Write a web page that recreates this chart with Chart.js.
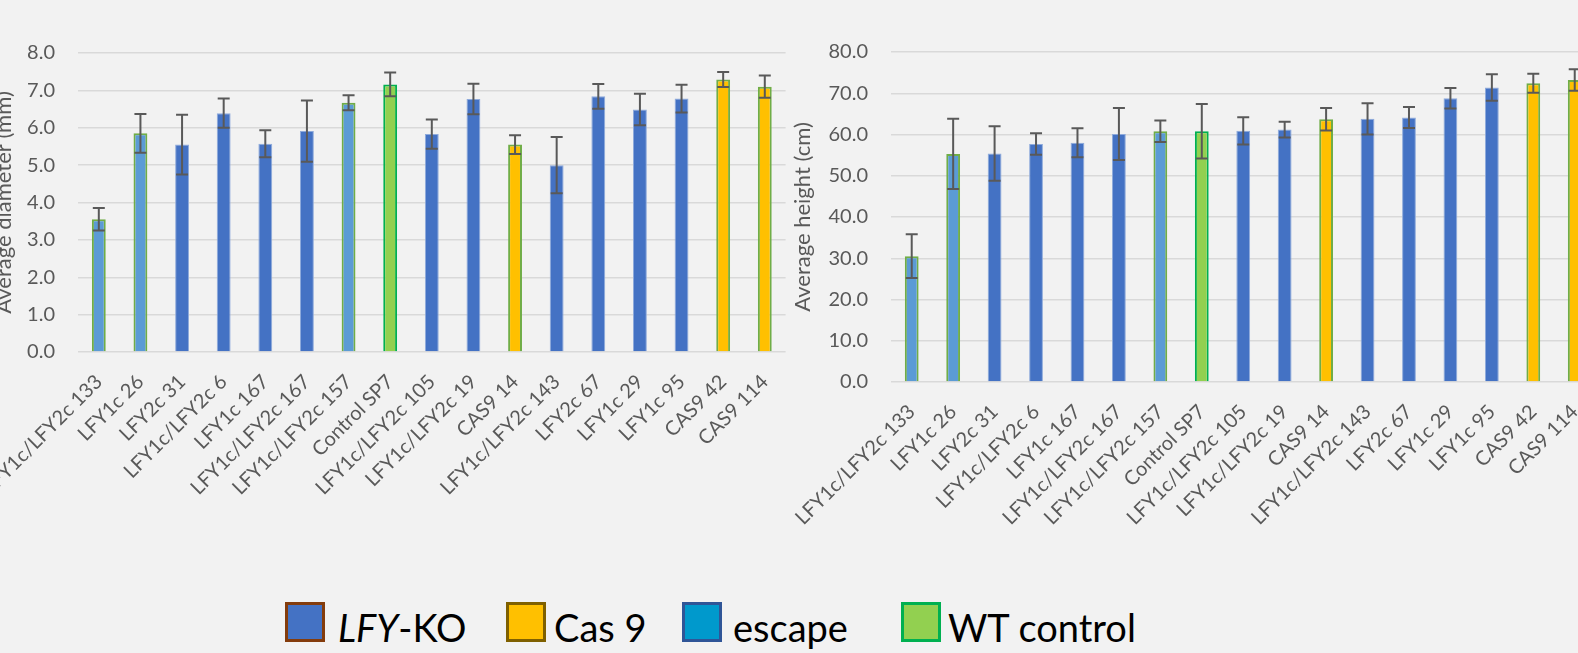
<!DOCTYPE html>
<html><head><meta charset="utf-8">
<script src="https://cdn.jsdelivr.net/npm/chart.js@4.4.0/dist/chart.umd.min.js"></script>
<style>
html,body{margin:0;padding:0;width:1578px;height:653px;overflow:hidden;background:#f2f2f2;}
.wrap{position:absolute;}
.box{position:absolute;width:40px;height:40px;box-sizing:border-box;border:3px solid;}
.txt{position:absolute;font-family:Lato,sans-serif;font-size:38px;line-height:38px;color:#000;white-space:nowrap;}
</style></head><body>
<div class="wrap" id="wl" style="left:-70px;top:0;width:870px;height:560px"><canvas id="cl"></canvas></div>
<div class="wrap" id="wr" style="left:770px;top:0;width:840px;height:560px"><canvas id="cr"></canvas></div>
<div id="legend">
  <div class="box" style="left:285px;top:602px;background:#4472c4;border-color:#843c0c"></div>
  <div class="txt" style="left:338px;top:608px"><i>LFY</i>-KO</div>
  <div class="box" style="left:506px;top:602px;background:#ffc000;border-color:#7f6000"></div>
  <div class="txt" style="left:554px;top:608px">Cas 9</div>
  <div class="box" style="left:682px;top:602px;background:#0099cc;border-color:#2f5597"></div>
  <div class="txt" style="left:733px;top:608px">escape</div>
  <div class="box" style="left:901px;top:602px;background:#92d050;border-color:#00b050"></div>
  <div class="txt" style="left:948px;top:608px">WT control</div>
</div>
<script>
const categories = ['LFY1c/LFY2c 133','LFY1c 26','LFY2c 31','LFY1c/LFY2c 6','LFY1c 167','LFY1c/LFY2c 167','LFY1c/LFY2c 157','Control SP7','LFY1c/LFY2c 105','LFY1c/LFY2c 19','CAS9 14','LFY1c/LFY2c 143','LFY2c 67','LFY1c 29','LFY1c 95','CAS9 42','CAS9 114'];
const groups = ['escape','escape','ko','ko','ko','ko','escape','wt','ko','ko','cas9','ko','ko','ko','ko','cas9','cas9'];
const diameterMean = [3.55,5.85,5.55,6.39,5.57,5.91,6.67,7.16,5.83,6.77,5.55,5.00,6.84,6.49,6.78,7.29,7.10];
const diameterErr  = [0.30,0.52,0.80,0.39,0.36,0.82,0.20,0.32,0.39,0.41,0.25,0.75,0.33,0.42,0.37,0.20,0.30];
const heightMean = [30.5,55.3,55.4,57.7,58.0,60.1,60.8,60.8,60.9,61.2,63.7,63.8,64.1,68.8,71.4,72.4,73.2];
const heightErr  = [5.3,8.5,6.6,2.6,3.5,6.3,2.6,6.6,3.3,1.9,2.75,3.8,2.55,2.5,3.2,2.3,2.6];
const diameterTicks = [0,1,2,3,4,5,6,7,8];
const heightTicks = [0,10,20,30,40,50,60,70,80];

const STYLE = {
  ko:     {bg:'#4472c4', border:'#8eaadb', bw:1},
  escape: {bg:'#5b9bd5', border:'#70ad47', bw:2},
  wt:     {bg:'#92d050', border:'#00b050', bw:2},
  cas9:   {bg:'#ffc000', border:'#70ad47', bw:2}
};

const errorBars = {
  id:'errorBars',
  afterDatasetsDraw(chart, args, opts){
    const ctx = chart.ctx, meta = chart.getDatasetMeta(0), ys = chart.scales.y;
    const vals = chart.data.datasets[0].data, errs = opts.errors;
    ctx.save();
    ctx.strokeStyle = '#595959'; ctx.lineWidth = 2;
    meta.data.forEach((bar,i)=>{
      const x = bar.x, y1 = ys.getPixelForValue(vals[i]+errs[i]), y2 = ys.getPixelForValue(vals[i]-errs[i]);
      ctx.beginPath();
      ctx.moveTo(x,y1); ctx.lineTo(x,y2);
      ctx.moveTo(x-6,y1); ctx.lineTo(x+6,y1);
      ctx.moveTo(x-6,y2); ctx.lineTo(x+6,y2);
      ctx.stroke();
    });
    ctx.restore();
  }
};

function makeChart(id, values, errs, ticks, title, titlePad, yWidth, xHeight, desiredTop, padRight){
  const ch = new Chart(document.getElementById(id), {
    type:'bar',
    data:{labels:categories, datasets:[{
      data:values,
      backgroundColor:groups.map(g=>STYLE[g].bg),
      borderColor:groups.map(g=>STYLE[g].border),
      borderWidth:groups.map(g=>STYLE[g].bw),
      barPercentage:0.333, categoryPercentage:1
    }]},
    options:{
      responsive:true, maintainAspectRatio:false, animation:false,
      layout:{padding:{top:40,right:padRight,left:0,bottom:0}},
      plugins:{legend:{display:false}, tooltip:{enabled:false}, errorBars:{errors:errs}},
      scales:{
        x:{
          grid:{display:false, drawTicks:false}, border:{display:false},
          ticks:{autoSkip:false, maxRotation:45, minRotation:45, padding:18, color:'#595959', font:{family:'Lato', size:20}},
          afterFit(s){ s.height = xHeight; }
        },
        y:{
          min:ticks[0], max:ticks[ticks.length-1],
          afterBuildTicks(s){ s.ticks = ticks.map(v=>({value:v})); },
          grid:{color:'#d9d9d9', lineWidth:1.5, drawTicks:false}, border:{display:false},
          ticks:{padding:23, color:'#595959', font:{family:'Lato', size:20}, callback:v=>Number(v).toFixed(1)},
          title:{display:true, text:title, color:'#595959', font:{family:'Lato', size:22}, padding:{top:titlePad, bottom:0}},
          afterFit(s){ s.width = yWidth; }
        }
      }
    },
    plugins:[errorBars]
  });
  const d = desiredTop - ch.chartArea.top;
  ch.options.layout.padding.top += d;
  ch.update('none');
  return ch;
}

makeChart('cl', diameterMean, diameterErr, diameterTicks, 'Average diameter (mm)', 61, 148, 208, 53, 8);
makeChart('cr', heightMean, heightErr, heightTicks, 'Average height (cm)', 20, 121, 178, 52, 10);
</script>
</body></html>
